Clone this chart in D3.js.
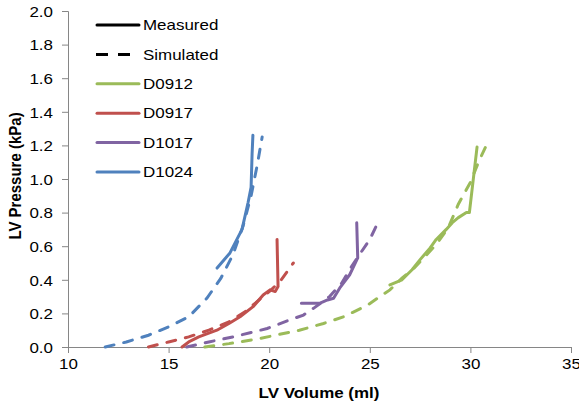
<!DOCTYPE html>
<html><head><meta charset="utf-8">
<script src="https://cdn.jsdelivr.net/npm/d3@7"></script>
<style>body{margin:0;background:#fff}svg{display:block;font-family:"Liberation Sans",Arial,sans-serif}</style>
</head><body><div id="chart"></div>
<script>
const xTicks = [10, 15, 20, 25, 30, 35];
const yTicks = [0, 0.2, 0.4, 0.6, 0.8, 1.0, 1.2, 1.4, 1.6, 1.8, 2.0];
const seriesNames = ["D0912", "D0917", "D1017", "D1024"];
const seriesColors = ["#9BBB59", "#C0504D", "#8064A2", "#4F81BD"];

const measuredD0912 = [[26.0,0.37],[26.6,0.40],[27.1,0.46],[27.5,0.52],[28.0,0.59],[28.3,0.64],[28.8,0.70],[29.1,0.74],[29.4,0.77],[29.8,0.80],[29.95,0.80],[30.33,1.19]];
const simulatedD0912 = [[16.8,0.0],[18.0,0.02],[19.5,0.05],[21.5,0.10],[22.7,0.14],[23.7,0.18],[24.9,0.25],[25.5,0.30],[26.0,0.34],[26.6,0.41],[27.2,0.47],[27.6,0.52],[28.3,0.61],[28.9,0.71],[29.4,0.85],[30.0,0.98],[30.4,1.10],[30.75,1.19]];
const measuredD0917 = [[15.67,0.0],[16.0,0.03],[16.5,0.06],[17.4,0.10],[18.0,0.14],[18.55,0.18],[19.2,0.24],[19.7,0.31],[20.04,0.34],[20.3,0.33],[20.44,0.36],[20.39,0.64]];
const simulatedD0917 = [[14.0,0.0],[15.0,0.03],[16.0,0.06],[17.0,0.10],[18.0,0.15],[18.8,0.21],[19.5,0.28],[20.1,0.34],[20.6,0.40],[21.2,0.50]];
const measuredD1017 = [[21.6,0.26],[22.5,0.26],[22.9,0.28],[23.2,0.29],[23.5,0.35],[24.0,0.43],[24.4,0.53],[24.35,0.74]];
const simulatedD1017 = [[15.9,0.0],[17.0,0.03],[18.2,0.06],[19.9,0.11],[21.0,0.16],[21.7,0.19],[22.2,0.23],[23.0,0.30],[23.6,0.38],[24.1,0.48],[24.6,0.57],[25.0,0.64],[25.4,0.74]];
const measuredD1024 = [[17.41,0.47],[18.05,0.56],[18.65,0.70],[18.95,0.86],[19.10,0.95],[19.15,1.15],[19.19,1.26]];
const simulatedD1024 = [[11.85,0.0],[12.9,0.03],[14.0,0.07],[15.0,0.12],[16.0,0.18],[16.9,0.29],[17.6,0.41],[18.2,0.55],[18.7,0.72],[19.1,0.90],[19.4,1.08],[19.65,1.25]];

const measured = [measuredD0912, measuredD0917, measuredD1017, measuredD1024];
const simulated = [simulatedD0912, simulatedD0917, simulatedD1017, simulatedD1024];

const W = 579, H = 404;
const STRETCH = 1.13;
const svg = d3.select("#chart").append("svg").attr("width", W).attr("height", H);
const x = d3.scaleLinear().domain([10, 35]).range([68, 571]);
const y = d3.scaleLinear().domain([0, 2]).range([347, 11]);
const axisColor = "#868686";

const xAxis = svg.append("g").attr("transform", "translate(0,347)")
  .call(d3.axisBottom(x).tickValues(xTicks).tickSize(6).tickFormat(d3.format("d")).tickPadding(5));
const yAxis = svg.append("g").attr("transform", "translate(68,0)")
  .call(d3.axisLeft(y).tickValues(yTicks).tickSize(6).tickFormat(d3.format(".1f")).tickPadding(9));
[xAxis, yAxis].forEach(g => {
  g.select(".domain").attr("stroke", axisColor).attr("stroke-width", 1);
  g.selectAll(".tick line").attr("stroke", axisColor);
  g.selectAll(".tick text").attr("fill", "#000").style("font-size", "15px").style("font-family", "Liberation Sans, Arial, sans-serif");
});
yAxis.selectAll(".tick text").attr("dy", "0.35em");

const line = d3.line().x(d => x(d[0])).y(d => y(d[1]));
simulated.forEach((s, i) => {
  svg.append("path").datum(s).attr("d", line).attr("fill", "none")
    .attr("stroke", seriesColors[i]).attr("stroke-width", 3)
    .attr("stroke-dasharray", "9,10").attr("stroke-linecap", "round");
});
measured.forEach((s, i) => {
  svg.append("path").datum(s).attr("d", line).attr("fill", "none")
    .attr("stroke", seriesColors[i]).attr("stroke-width", 3)
    .attr("stroke-linejoin", "round").attr("stroke-linecap", "round");
});

// legend
const legendItems = [{label:"Measured", color:"#000", dash:null},{label:"Simulated", color:"#000", dash:"12,10"}]
  .concat(seriesNames.map((n, i) => ({label:n, color:seriesColors[i], dash:null})));
const lg = svg.append("g");
legendItems.forEach((it, i) => {
  const yy = 25 + i * 29.4;
  lg.append("line").attr("x1", it.dash ? 96 : 97).attr("x2", it.dash ? 130 : 139).attr("y1", yy).attr("y2", yy)
    .attr("stroke", it.color).attr("stroke-width", 3)
    .attr("stroke-dasharray", it.dash).attr("stroke-linecap", it.dash ? "butt" : "round");
  lg.append("text").attr("x", 143).attr("y", yy).attr("dy", "0.35em")
    .style("font-size", "15px").text(it.label);
});

svg.append("text").attr("x", 319).attr("y", 398).attr("text-anchor", "middle")
  .style("font-size", "15px").style("font-weight", "bold").text("LV Volume (ml)");
svg.append("text").attr("transform", "translate(21,176) rotate(-90) scale(1," + STRETCH + ")").attr("text-anchor", "middle")
  .style("font-size", "15px").style("font-weight", "bold").attr("class", "ytitle").text("LV Pressure (kPa)");

// widen horizontal text to match the reference's proportions
svg.selectAll("text").filter(function(){ return !this.classList.contains("ytitle"); }).each(function(){
  const w = this.getComputedTextLength();
  d3.select(this).attr("textLength", w * STRETCH).attr("lengthAdjust", "spacingAndGlyphs");
});
</script></body></html>
